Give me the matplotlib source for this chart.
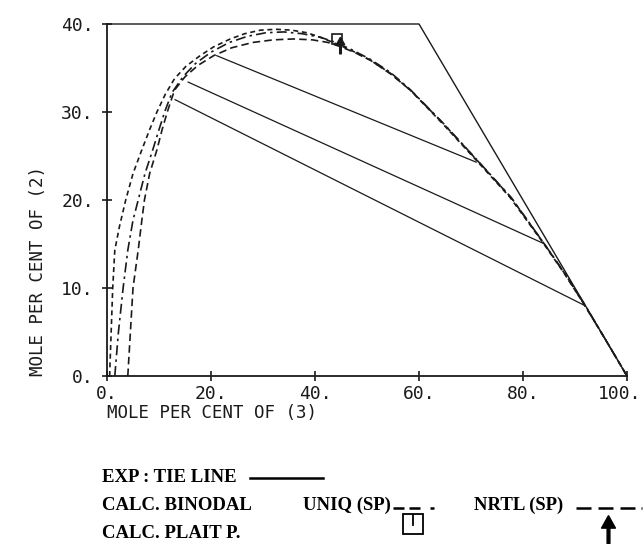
import matplotlib
matplotlib.use("Agg")
import matplotlib.pyplot as plt
import matplotlib.transforms as mtransforms
from matplotlib.lines import Line2D

W, H = 643, 544
INK = "#1a1a1a"
MONO = "DejaVu Sans Mono"
SERIF = "Liberation Serif"

# phase boundary of the diagram (x + y = 100)
border_x = [0, 60, 100]
border_y = [40, 40, 0]

# binodal curves
outer_x = [0.5, 0.8, 1.1, 1.5, 2.4, 3.6, 5.0, 6.7, 8.2, 9.6, 11.2, 13.0, 15.2, 17.9,
           20.5, 23.7, 26.5, 29.5, 32.5, 35.5, 38.5, 41.0, 43.5, 47.0, 50.6, 54.5,
           58.3, 64.5, 71.2, 77.5, 83.9, 88.0, 91.9, 96.0, 100.0]
outer_y = [0, 5, 10, 14.3, 17.0, 20, 23, 25.7, 28.0, 30.0, 32.0, 33.8, 35.2, 36.4,
           37.4, 38.3, 38.9, 39.3, 39.4, 39.3, 39.0, 38.5, 37.9, 37.0, 35.9, 34.4,
           32.5, 28.7, 24.4, 20.3, 15.1, 11.6, 8.0, 4.0, 0]

uniq_x = [1.5, 2.2, 3.1, 4.0, 5.0, 6.0, 7.3, 8.8, 10.0, 11.2, 12.5, 14.6, 17.0, 20.0,
          23.5, 27.0, 30.5, 34.0, 37.5, 41.0, 44.0, 47.0, 50.6, 54.5, 58.4, 64.7,
          71.4, 77.7, 84.0, 88.1, 92.0, 96.0, 100.0]
uniq_y = [0, 5, 10, 14.3, 17.7, 20, 23, 25.7, 28.0, 30.2, 32.2, 34.0, 35.5, 36.8,
          37.9, 38.6, 39.0, 39.1, 38.9, 38.5, 37.9, 37.1, 36.0, 34.5, 32.5, 28.7,
          24.4, 20.3, 15.1, 11.6, 8.0, 4.0, 0]

nrtl_x = [4.0, 4.5, 5.0, 6.0, 6.7, 7.2, 8.2, 9.6, 10.6, 11.7, 13.0, 15.0, 17.5, 20.5,
          24.0, 28.0, 32.0, 35.8, 39.5, 42.5, 45.0, 47.5, 50.6, 54.6, 58.5, 64.8,
          71.5, 77.8, 84.1, 88.2, 92.0, 96.0, 100.0]
nrtl_y = [0, 5, 10, 14.3, 17.7, 20, 23, 25.7, 28.0, 30.2, 32.5, 34.0, 35.3, 36.4,
          37.3, 37.9, 38.2, 38.3, 38.2, 37.9, 37.4, 36.8, 35.9, 34.3, 32.4, 28.6,
          24.3, 20.2, 15.0, 11.5, 7.9, 4.0, 0]

# experimental tie lines (raffinate end, extract end)
tie_x = [(21.1, 71.0), (15.6, 83.8), (13.1, 91.9)]
tie_y = [(36.4, 24.3), (33.4, 15.1), (31.4, 8.0)]

# calculated plait points
plait_uniq = (44.2, 38.3)
plait_nrtl = (44.8, 37.6)

xticks = [0, 20, 40, 60, 80, 100]
yticks = [0, 10, 20, 30, 40]

ARROW = [(0, 1), (-0.5, 0.1), (-0.1, 0.1), (-0.1, -1), (0.1, -1), (0.1, 0.1), (0.5, 0.1), (0, 1)]

fig = plt.figure(figsize=(W / 100, H / 100), dpi=100)
ax = fig.add_axes([107 / W, 1 - 376 / H, 520 / W, 352 / H])
ax.set_xlim(0, 100)
ax.set_ylim(0, 40)
for s in ("top", "right"):
    ax.spines[s].set_visible(False)
for s in ("left", "bottom"):
    ax.spines[s].set_linewidth(1.3)
    ax.spines[s].set_color(INK)

ax.plot(border_x, border_y, color=INK, lw=1.0, clip_on=False)

ax.plot(outer_x, outer_y, color=INK, lw=1.2, dashes=(3, 2.2), clip_on=False)
ax.plot(uniq_x, uniq_y, color=INK, lw=1.2, dashes=(6, 2.5, 1.5, 2.5), clip_on=False)
ax.plot(nrtl_x, nrtl_y, color=INK, lw=1.2, dashes=(4.5, 2.5), clip_on=False)

for tx, ty in zip(tie_x, tie_y):
    ax.plot(tx, ty, color=INK, lw=0.9)

ax.plot(*plait_uniq, marker="s", ms=7, mfc="none", mec=INK, mew=1.2)
ax.plot(*plait_nrtl, marker=ARROW, ms=12, color=INK)

ax.set_xticks(xticks)
ax.set_xticklabels([f"{v}." for v in xticks])
ax.set_yticks(yticks)
ax.set_yticklabels([f"{v}." for v in yticks])
ax.tick_params(direction="inout", length=7, width=1.2, colors=INK, labelsize=13, pad=3)
ax.tick_params(axis="y", pad=6)
for lab in ax.get_xticklabels() + ax.get_yticklabels():
    lab.set_family(MONO)
# keep "100." inside the canvas
last = ax.get_xticklabels()[-1]
last.set_transform(last.get_transform() + mtransforms.ScaledTranslation(-0.07, 0, fig.dpi_scale_trans))

ax.set_xlabel("MOLE PER CENT OF (3)", loc="left", family=MONO, fontsize=12.5,
              color=INK, labelpad=1)
ax.set_ylabel("MOLE PER CENT OF (2)", loc="bottom", family=MONO, fontsize=12.5,
              color=INK, labelpad=10)


def fx(px):
    return px / W


def fy(py):
    return 1 - py / H


legend_font = dict(family=SERIF, fontweight="bold", fontsize=13.5, color="black", va="center")
fig.text(fx(102), fy(477), "EXP : TIE LINE", **legend_font)
fig.text(fx(102), fy(505), "CALC. BINODAL", **legend_font)
fig.text(fx(102), fy(533), "CALC. PLAIT P.", **legend_font)
fig.text(fx(303), fy(505), "UNIQ (SP)", **legend_font)
fig.text(fx(474), fy(505), "NRTL (SP)", **legend_font)

fig.add_artist(Line2D([fx(250), fx(323)], [fy(478), fy(478)], color="black", lw=1.8))
fig.add_artist(Line2D([fx(393), fx(439)], [fy(508), fy(508)], color="black", lw=1.8,
                      dashes=(4.4, 2, 4.4, 4, 1.6, 20)))
fig.add_artist(Line2D([fx(576), fx(642)], [fy(508), fy(508)], color="black", lw=1.8,
                      dashes=(6, 2.8, 6, 2.8, 6, 2.4, 1, 10)))
fig.add_artist(Line2D([fx(413)], [fy(524)], marker="s", ms=15, mfc="none", mec="black", mew=1.3))
fig.add_artist(Line2D([fx(413), fx(413)], [fy(515), fy(525)], color="black", lw=1.3))
fig.add_artist(Line2D([fx(608)], [fy(529)], marker=ARROW, ms=20, color="black"))

fig.savefig("out.png", dpi=100)
